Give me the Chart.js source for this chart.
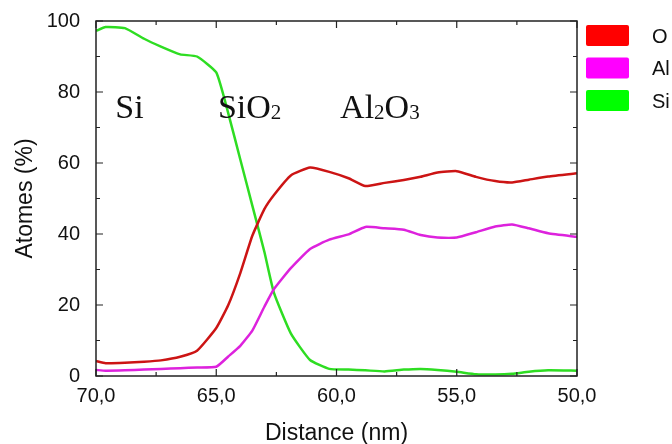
<!DOCTYPE html>
<html>
<head>
<meta charset="utf-8">
<title>Profil de composition</title>
<script src="https://cdn.jsdelivr.net/npm/chart.js@4.4.1/dist/chart.umd.min.js"></script>
<style>
  html, body { margin: 0; padding: 0; background: #fff; }
  #wrap { width: 672px; height: 444px; }
</style>
</head>
<body>
<div id="wrap"><canvas id="profileChart" width="672" height="444"></canvas></div>
<script>
// depth profile, distance in nm (axis runs from 70 down to 50)
const distance = [70.0, 69.6, 68.8, 68.0, 67.3, 66.5, 65.8, 65.0, 64.5, 64.0, 63.5, 63.0, 62.6, 61.9,
                  61.1, 60.3, 59.5, 58.8, 58.0, 57.2, 56.5, 55.8, 55.0, 54.2, 53.4, 52.7, 52.0, 51.2, 50.0];
const oxygen    = [4.2, 3.6, 3.7, 4.0, 4.4, 5.4, 7.1, 13.5, 20.0, 29.0, 39.5, 47.0, 51.0, 56.5,
                   58.7, 57.5, 55.7, 53.5, 54.4, 55.2, 56.1, 57.3, 57.7, 56.1, 54.9, 54.5, 55.3, 56.2, 57.1];
const aluminium = [1.7, 1.5, 1.6, 1.8, 2.0, 2.2, 2.4, 2.6, 5.5, 8.5, 12.8, 19.5, 24.5, 30.4,
                   35.8, 38.4, 39.9, 42.0, 41.6, 41.2, 39.7, 39.0, 39.0, 40.5, 42.1, 42.7, 41.6, 40.2, 39.2];
const silicon   = [97.2, 98.3, 98.0, 95.0, 92.8, 90.6, 90.0, 85.5, 74.0, 61.0, 48.0, 35.0, 23.4, 12.0,
                   4.5, 2.0, 1.8, 1.6, 1.3, 1.8, 2.0, 1.7, 1.2, 0.5, 0.4, 0.6, 1.2, 1.6, 1.5];
const seriesNames = ['O', 'Al', 'Si'];
const xTickValues = [70, 65, 60, 55, 50];
const yTickValues = [0, 20, 40, 60, 80, 100];

function points(values) {
    return distance.map(function (d, i) { return { x: d, y: values[i] }; });
}

const lineColors = ['#cc1414', '#dd22dd', '#2edd22'];
const boxColors = ['#ff0000', '#ff00ff', '#00ff00'];

// frame, inward ticks, layer names and legend
const decorations = {
    id: 'decorations',
    afterDraw(chart) {
        const ctx = chart.ctx;
        const a = chart.chartArea;
        const xs = chart.scales.x, ys = chart.scales.y;
        ctx.save();
        ctx.strokeStyle = '#222';
        ctx.lineWidth = 1.5;
        ctx.strokeRect(a.left, a.top, a.right - a.left, a.bottom - a.top);

        ctx.lineWidth = 1.2;
        ctx.beginPath();
        for (let v = 50; v <= 70; v += 2.5) {
            const px = xs.getPixelForValue(v);
            const len = v % 5 === 0 ? 7 : 4;
            ctx.moveTo(px, a.bottom); ctx.lineTo(px, a.bottom - len);
            ctx.moveTo(px, a.top); ctx.lineTo(px, a.top + len);
        }
        for (let v = 0; v <= 100; v += 10) {
            const py = ys.getPixelForValue(v);
            const len = v % 20 === 0 ? 7 : 4;
            ctx.moveTo(a.left, py); ctx.lineTo(a.left + len, py);
            ctx.moveTo(a.right, py); ctx.lineTo(a.right - len, py);
        }
        ctx.stroke();

        // layer names with subscripts
        ctx.fillStyle = '#111';
        ctx.textBaseline = 'alphabetic';
        ctx.textAlign = 'left';
        function chem(parts, xv, yv) {
            let cx = xs.getPixelForValue(xv);
            const cy = ys.getPixelForValue(yv);
            parts.forEach(function (p) {
                const sub = /[0-9]/.test(p);
                ctx.font = sub ? '21px "Liberation Serif"' : '34px "Liberation Serif"';
                ctx.fillText(p, cx, sub ? cy + 1 : cy);
                cx += ctx.measureText(p).width;
            });
        }
        chem(['Si'], 69.2, 72.7);
        chem(['Si', 'O', '2'], 64.93, 72.7);
        chem(['Al', '2', 'O', '3'], 59.85, 72.7);

        // legend
        ctx.font = '20px "Liberation Sans"';
        ctx.textBaseline = 'middle';
        chart.data.datasets.forEach(function (ds, i) {
            const bx = a.right + 9;
            const by = a.top + 4 + i * 32.5;
            ctx.fillStyle = boxColors[i];
            ctx.beginPath();
            ctx.roundRect(bx, by, 43, 21, 2);
            ctx.fill();
            ctx.fillStyle = '#111';
            ctx.fillText(ds.label, bx + 66, by + 12);
        });
        ctx.restore();
    }
};

const ctx = document.getElementById('profileChart').getContext('2d');
new Chart(ctx, {
    type: 'line',
    data: {
        datasets: [
            { label: seriesNames[0], data: points(oxygen), borderColor: lineColors[0] },
            { label: seriesNames[1], data: points(aluminium), borderColor: lineColors[1] },
            { label: seriesNames[2], data: points(silicon), borderColor: lineColors[2] }
        ]
    },
    options: {
        responsive: false,
        animation: false,
        elements: {
            line: { borderWidth: 2.5, tension: 0.15, fill: false },
            point: { radius: 0 }
        },
        layout: { padding: { top: 21, right: 95, left: 0, bottom: 0 } },
        plugins: {
            legend: { display: false },
            tooltip: { enabled: false }
        },
        scales: {
            x: {
                type: 'linear',
                min: 50,
                max: 70,
                reverse: true,
                grid: { display: false },
                border: { display: false },
                afterBuildTicks: function (scale) {
                    scale.ticks = xTickValues.map(function (v) { return { value: v }; });
                },
                afterFit: function (scale) { scale.height = 68; },
                ticks: {
                    padding: 0,
                    color: '#111',
                    font: { family: 'Liberation Sans', size: 20 },
                    maxRotation: 0,
                    callback: function (v) { return v.toFixed(1).replace('.', ','); }
                },
                title: {
                    display: true,
                    text: 'Distance (nm)',
                    color: '#111',
                    padding: { top: 0, bottom: 0 },
                    font: { family: 'Liberation Sans', size: 23, lineHeight: 0.9 }
                }
            },
            y: {
                min: 0,
                max: 100,
                grid: { display: false },
                border: { display: false },
                afterBuildTicks: function (scale) {
                    scale.ticks = yTickValues.map(function (v) { return { value: v }; });
                },
                afterFit: function (scale) { scale.width = 96; },
                ticks: {
                    padding: 8,
                    color: '#111',
                    font: { family: 'Liberation Sans', size: 20 }
                },
                title: {
                    display: true,
                    text: 'Atomes (%)',
                    color: '#111',
                    padding: { top: 12, bottom: 0 },
                    font: { family: 'Liberation Sans', size: 23 }
                }
            }
        }
    },
    plugins: [decorations]
});
</script>
</body>
</html>
